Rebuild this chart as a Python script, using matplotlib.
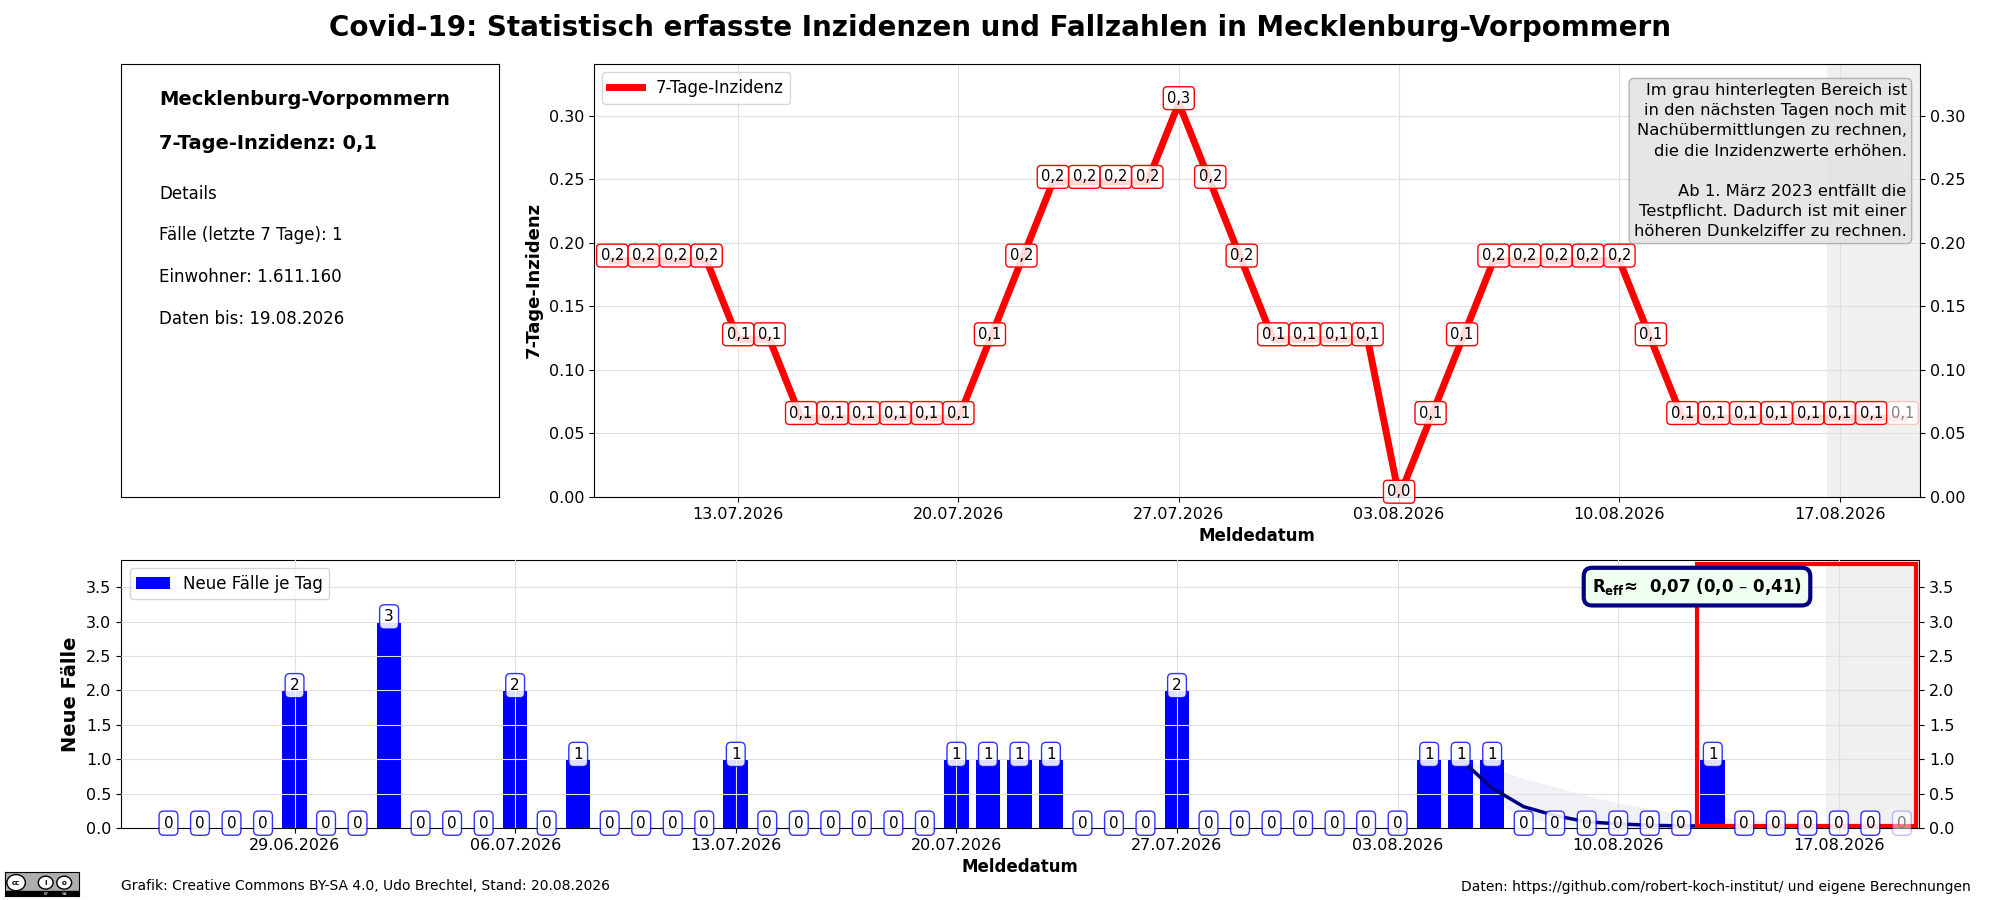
import numpy as np
import pandas as pd
import matplotlib
matplotlib.use('Agg')
import matplotlib.pyplot as plt
import matplotlib.dates as mdates
from matplotlib.patches import Rectangle, Circle

# daily cases (Meldedatum)
case_dates = pd.date_range('2026-06-25', '2026-08-19')
cases = [0, 0, 0, 0, 2, 0, 0, 3, 0, 0, 0, 2, 0, 1, 0, 0, 0, 0, 1,
         0, 0, 0, 0, 0, 0, 1, 1, 1, 1, 0, 0, 0, 2, 0, 0, 0, 0, 0, 0, 0,
         1, 1, 1, 0, 0, 0, 0, 0, 0, 1, 0, 0, 0, 0, 0, 0]

# 7-day incidence
inz_dates = pd.date_range('2026-07-09', '2026-08-19')
inzidenz = [0.186, 0.186, 0.186, 0.186, 0.124, 0.124,
            0.062, 0.062, 0.062, 0.062, 0.062, 0.062,
            0.124, 0.186, 0.248, 0.248, 0.248, 0.248, 0.310, 0.248, 0.186,
            0.124, 0.124, 0.124, 0.124, 0.0, 0.062, 0.124,
            0.186, 0.186, 0.186, 0.186, 0.186, 0.124,
            0.062, 0.062, 0.062, 0.062, 0.062, 0.062, 0.062, 0.062]

# R_eff estimate with band
r_dates = pd.date_range('2026-08-05', '2026-08-19')
r_eff = [1.0, 0.58, 0.31, 0.18, 0.09, 0.06, 0.04, 0.03, 0.03, 0.025, 0.02, 0.02, 0.02, 0.02, 0.02]
r_upper = [1.0, 0.88, 0.72, 0.60, 0.47, 0.36, 0.28, 0.22, 0.17, 0.13, 0.10, 0.08, 0.06, 0.05, 0.04]
r_lower = [1.0, 0.40, 0.15, 0.06, 0.02, 0.01, 0.0, 0.0, 0.0, 0.0, 0.0, 0.0, 0.0, 0.0, 0.0]

info_lines = ['Mecklenburg-Vorpommern', '7-Tage-Inzidenz: 0,1', 'Details',
              'Fälle (letzte 7 Tage): 1', 'Einwohner: 1.611.160', 'Daten bis: 19.08.2026']

hint = ('Im grau hinterlegten Bereich ist\nin den nächsten Tagen noch mit\n'
        'Nachübermittlungen zu rechnen,\ndie die Inzidenzwerte erhöhen.\n\n'
        'Ab 1. März 2023 entfällt die\nTestpflicht. Dadurch ist mit einer\n'
        'höheren Dunkelziffer zu rechnen.')


def fmt(v):
    return f'{v:.1f}'.replace('.', ',')


def date_axis(ax):
    ax.xaxis.set_major_locator(mdates.WeekdayLocator(byweekday=mdates.MO))
    ax.xaxis.set_major_formatter(mdates.DateFormatter('%d.%m.%Y'))
    ax.tick_params(labelsize=11.5, right=True, labelright=True)
    ax.grid(True, color='#e0e0e0', lw=0.8)


fig = plt.figure(figsize=(20, 9), dpi=100)
fig.suptitle('Covid-19: Statistisch erfasste Inzidenzen und Fallzahlen in Mecklenburg-Vorpommern',
             fontsize=20, fontweight='bold', y=0.985)

# info panel
ax0 = fig.add_axes([0.0606, 0.448, 0.189, 0.481])
ax0.set_xticks([])
ax0.set_yticks([])
ys = [0.918, 0.815, 0.70, 0.605, 0.508, 0.411]
for i, (t, y) in enumerate(zip(info_lines, ys)):
    ax0.text(0.1, y, t, transform=ax0.transAxes, va='center', ha='left',
             fontsize=14 if i < 2 else 12, fontweight='bold' if i < 2 else 'normal')

# incidence chart
ax1 = fig.add_axes([0.297, 0.448, 0.663, 0.481])
xi = mdates.date2num(inz_dates)
ax1.set_xlim(xi[0] - 0.58, xi[-1] + 0.55)
ax1.axvspan(xi[-1] - 2.4, xi[-1] + 0.55, color='#f0f0f0', lw=0, zorder=0)
ax1.plot(xi, inzidenz, color='red', lw=5, label='7-Tage-Inzidenz', zorder=3)
for i, (x, v) in enumerate(zip(xi, inzidenz)):
    last = i == len(xi) - 1
    ax1.text(x, v + 0.004, fmt(v), ha='center', va='center', fontsize=10.5,
             color='grey' if last else 'black', zorder=5,
             bbox=dict(boxstyle='round,pad=0.27',
                       fc=(1, 1, 1, 0.92 if last else 0.85),
                       ec=(1, 0, 0, 0.2 if last else 1)))
ax1.set_ylim(0, max(inzidenz) * 1.1)
date_axis(ax1)
ax1.set_ylabel('7-Tage-Inzidenz', fontsize=13, fontweight='bold')
ax1.set_xlabel('Meldedatum', fontsize=12, fontweight='bold', labelpad=4)
ax1.legend(loc='upper left', fontsize=12)
ax1.text(0.99, 0.955, hint, transform=ax1.transAxes, ha='right', va='top',
         fontsize=11.8, linespacing=1.42, zorder=6,
         bbox=dict(boxstyle='round,pad=0.3', fc='#e2e2e2', ec='#aaaaaa', alpha=0.85))

# daily cases chart
ax2 = fig.add_axes([0.0606, 0.080, 0.899, 0.298])
xc = mdates.date2num(case_dates)
xr = mdates.date2num(r_dates)
ax2.set_xlim(xc[0] - 1.5, xc[-1] + 0.55)
ax2.axvspan(xc[-1] - 2.4, xc[-1] + 0.55, color='#f0f0f0', lw=0, zorder=0)
ax2.fill_between(xr, r_lower, r_upper, color='#000080', alpha=0.06, lw=0, zorder=1)
ax2.bar(xc, cases, width=0.78, color='blue', label='Neue Fälle je Tag', zorder=1.5)
ax2.plot(xr, r_eff, color='#000080', lw=2.5, zorder=2.6)
for i, (x, v) in enumerate(zip(xc, cases)):
    last = i == len(xc) - 1
    ax2.text(x, v + 0.07, str(v), ha='center', va='center', fontsize=11,
             color='grey' if last else 'black', zorder=5,
             bbox=dict(boxstyle='round,pad=0.3',
                       fc=(1, 1, 1, 0.5 if last else 0.88),
                       ec=(0, 0, 1, 0.25 if last else 0.8)))
ymax2 = max(cases) * 1.3
ax2.set_ylim(0, ymax2)
date_axis(ax2)
ax2.set_axisbelow(False)
ax2.set_ylabel('Neue Fälle', fontsize=14, fontweight='bold')
ax2.set_xlabel('Meldedatum', fontsize=12, fontweight='bold', labelpad=4)
ax2.legend(loc='upper left', fontsize=12)

x_r = xc[-8] + 0.5
ax2.add_patch(Rectangle((x_r, 0.03), xc[-1] + 0.45 - x_r, ymax2 * 0.985 - 0.03,
                        fill=False, ec='red', lw=3, zorder=4))
ax2.text(x_r, ymax2 * 0.9, r'$\mathbf{R_{eff}}$' + '≈  0,07 (0,0 – 0,41)',
         ha='center', va='center', fontsize=12, fontweight='bold', zorder=6,
         bbox=dict(boxstyle='round,pad=0.5', fc='#effff0', ec='#000080', lw=3))

# footer
fig.text(0.0606, 0.015, 'Grafik: Creative Commons BY-SA 4.0, Udo Brechtel, Stand: 20.08.2026',
         fontsize=10, va='center')
fig.text(0.9855, 0.015, 'Daten: https://github.com/robert-koch-institut/ und eigene Berechnungen',
         fontsize=10, va='center', ha='right')

# cc logo
axl = fig.add_axes([0.0025, 0.004, 0.037, 0.027])
axl.set_xlim(0, 4)
axl.set_ylim(0, 1.5)
axl.set_facecolor('#abb1aa')
axl.set_xticks([])
axl.set_yticks([])
axl.add_patch(Rectangle((0, 0), 4, 0.35, color='black'))
for cx, s in [(0.6, 'cc'), (2.2, 'i'), (3.2, 'o')]:
    axl.add_patch(Circle((cx, 0.85), 0.5 if s == 'cc' else 0.4, fc='white', ec='black', lw=1))
    axl.text(cx, 0.85, s, ha='center', va='center', fontsize=5, fontweight='bold')
axl.text(2.2, 0.17, 'BY', color='white', fontsize=3, ha='center', va='center')
axl.text(3.2, 0.17, 'SA', color='white', fontsize=3, ha='center', va='center')

fig.savefig('out.png', dpi=100)
